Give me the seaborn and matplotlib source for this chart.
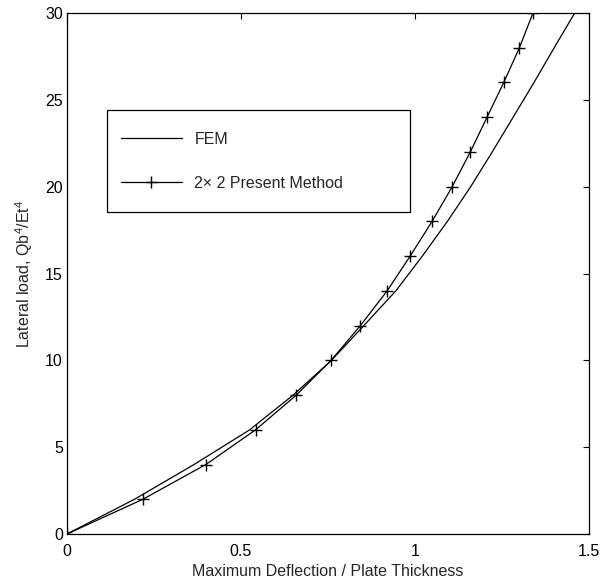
import matplotlib
matplotlib.use("Agg")
import matplotlib.pyplot as plt
from matplotlib.patches import Rectangle
import seaborn as sns
import pandas as pd

# FEM curve (deflection vs. load)
fem_load = [0, 2, 4, 6, 8, 10, 12, 14, 16, 18, 20, 22, 24, 26, 28, 30]
fem_defl = [0, 0.194, 0.365, 0.525, 0.65, 0.76, 0.853, 0.945, 1.021, 1.093, 1.16, 1.222, 1.282, 1.342, 1.40, 1.459]

# 2x2 Present Method
pm_load = [0, 2, 4, 6, 8, 10, 12, 14, 16, 18, 20, 22, 24, 26, 28, 30]
pm_defl = [0, 0.218, 0.399, 0.542, 0.659, 0.759, 0.843, 0.920, 0.986, 1.049, 1.107, 1.159, 1.207, 1.255, 1.300, 1.339]

x_ticks = [0, 0.5, 1, 1.5]
x_tick_labels = ["0", "0.5", "1", "1.5"]
y_ticks = [0, 5, 10, 15, 20, 25, 30]

sns.set_style("white")
plt.rcParams["font.family"] = ["Liberation Sans", "DejaVu Sans"]
plt.rcParams["mathtext.fontset"] = "custom"
plt.rcParams["mathtext.rm"] = "Liberation Sans"
plt.rcParams["mathtext.it"] = "Liberation Sans:italic"

FS = 11.5

fem_df = pd.DataFrame({"defl": fem_defl, "load": fem_load})
pm_df = pd.DataFrame({"defl": pm_defl, "load": pm_load})

W, H = 603, 584
fig = plt.figure(figsize=(W / 100, H / 100), dpi=100)
L, R, T, B = 67, 589, 13, 534
ax = fig.add_axes([L / W, (H - B) / H, (R - L) / W, (B - T) / H])

sns.lineplot(data=fem_df, x="defl", y="load", ax=ax, color="black", lw=0.9,
             label="FEM", sort=False, estimator=None)
sns.lineplot(data=pm_df, x="defl", y="load", ax=ax, color="black", lw=0.9,
             marker="+", markersize=9, markeredgewidth=1.0, markeredgecolor="black",
             label="2\u00d7 2 Present Method", sort=False, estimator=None)

ax.set_xlim(0, 1.5)
ax.set_ylim(0, 30)
ax.set_xticks(x_ticks)
ax.set_xticklabels(x_tick_labels)
ax.set_yticks(y_ticks)
ax.tick_params(direction="in", length=4, width=0.8, top=True, right=True,
               labelsize=FS, colors="black", pad=3)
ax.tick_params(axis="x", pad=7)
for s in ax.spines.values():
    s.set_visible(True)
    s.set_color("black")
    s.set_linewidth(0.9)

ax.set_xlabel("Maximum Deflection / Plate Thickness", fontsize=FS, labelpad=4)
ax.set_ylabel("Lateral load, Qb$^4$/Et$^4$", fontsize=FS, labelpad=7)

def ax_x(px):
    return (px - L) / (R - L)

def ax_y(py):
    return (B - py) / (B - T)

# legend frame (drawn manually for exact placement)
bx0, by0, bx1, by1 = 107, 110, 410, 212
ax.add_patch(Rectangle((ax_x(bx0), ax_y(by1)), ax_x(bx1) - ax_x(bx0), ax_y(by0) - ax_y(by1),
                       transform=ax.transAxes, facecolor="white", edgecolor="black",
                       lw=0.9, zorder=5))
leg = ax.legend(loc="upper left", bbox_to_anchor=(ax_x(121), ax_y(132)),
                fontsize=FS, frameon=False, handlelength=3.8, handletextpad=0.8,
                borderpad=0, labelspacing=1.82, borderaxespad=0)
leg.set_zorder(6)

fig.savefig("out.png", dpi=100)
